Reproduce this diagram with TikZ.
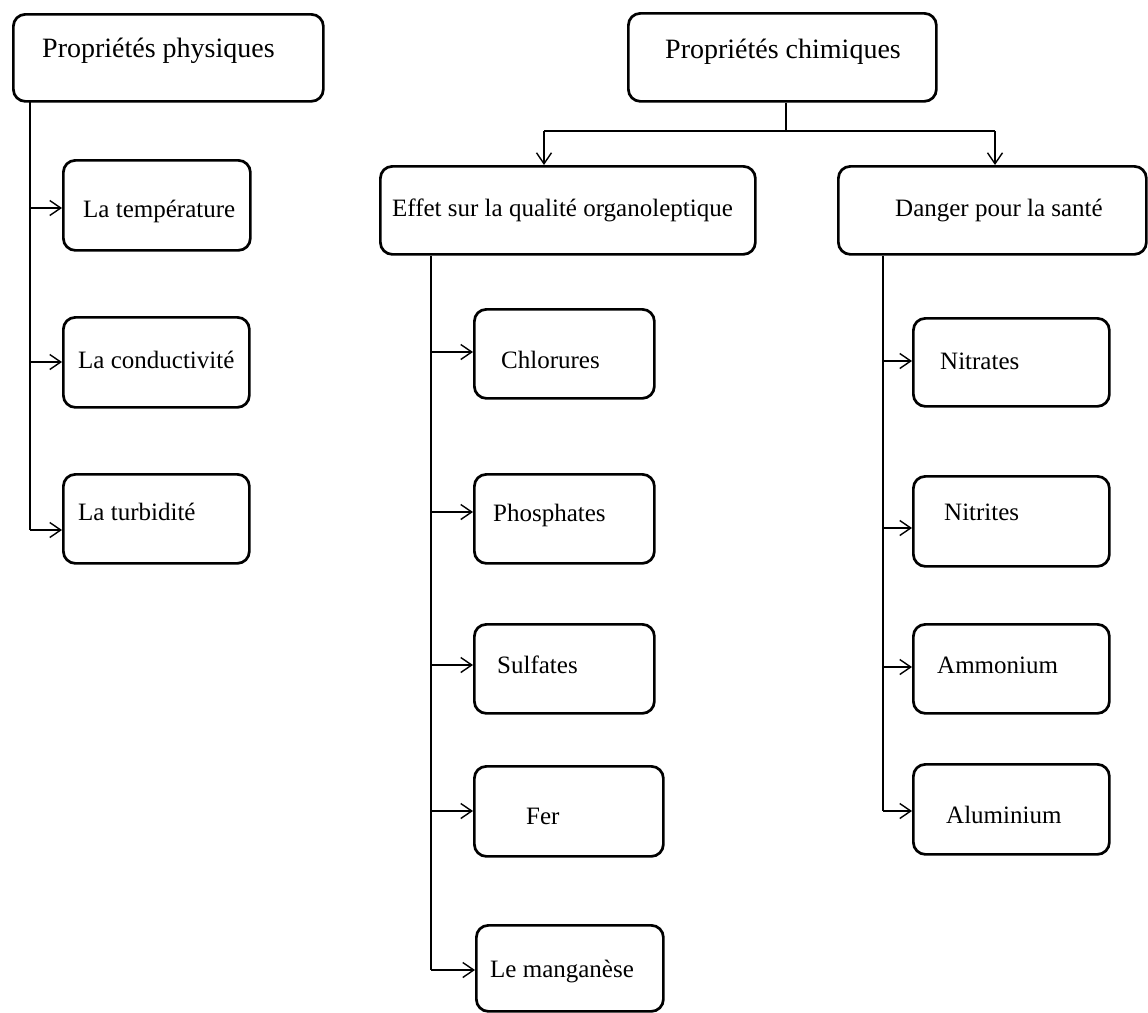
\documentclass[tikz,border=0pt]{standalone}
\usepackage{fontspec}
\setmainfont{Liberation Serif}
\usetikzlibrary{arrows.meta}
\begin{document}
\begin{tikzpicture}[x=1pt,y=-1pt,
  box/.style={draw, line width=2.7pt, rounded corners=12pt, inner sep=0pt, anchor=north west},
  itemtxt/.style={inner sep=0pt, anchor=base west, font=\fontsize{25}{30}\selectfont},
  headtxt/.style={inner sep=0pt, anchor=base west, font=\fontsize{28}{33}\selectfont},
  conn/.style={line width=1.4pt},
  arr/.style={line width=1.4pt, -{Straight Barb[length=11pt,width=15pt,line width=1.4pt]}}]
\useasboundingbox (0,0) rectangle (1148,1012);
% boxes
\node[box, minimum width=310pt, minimum height=87pt] (phys) at (12,13) {};
\node[box, minimum width=308pt, minimum height=88pt] (chim) at (627,12) {};
\node[box, minimum width=375pt, minimum height=88pt] (effet) at (379,165) {};
\node[box, minimum width=308pt, minimum height=88pt] (danger) at (837,165) {};
\node[box, minimum width=187pt, minimum height=90pt] (temp) at (62,159) {};
\node[box, minimum width=186pt, minimum height=90pt] (cond) at (62,316) {};
\node[box, minimum width=186pt, minimum height=89pt] (turb) at (62,473) {};
\node[box, minimum width=180pt, minimum height=89pt] (chlo) at (473,308) {};
\node[box, minimum width=180pt, minimum height=89pt] (phos) at (473,473) {};
\node[box, minimum width=180pt, minimum height=89pt] (sulf) at (473,623) {};
\node[box, minimum width=189pt, minimum height=90pt] (fer) at (473,765) {};
\node[box, minimum width=187pt, minimum height=86pt] (mang) at (475,924) {};
\node[box, minimum width=196pt, minimum height=88pt] (nitra) at (912,317) {};
\node[box, minimum width=196pt, minimum height=90pt] (nitri) at (912,475) {};
\node[box, minimum width=196pt, minimum height=89pt] (ammo) at (912,623) {};
\node[box, minimum width=196pt, minimum height=90pt] (alu) at (912,763) {};
% texts
\node[headtxt] (phys-t) at (42,57) {Propriétés physiques};
\node[headtxt] (chim-t) at (665,58) {Propriétés chimiques};
\node[itemtxt, anchor=base east] (effet-t) at (733,216) {Effet sur la qualité organoleptique};
\node[itemtxt] (danger-t) at (895,216) {Danger pour la santé};
\node[itemtxt] (temp-t) at (83,217) {La température};
\node[itemtxt] (cond-t) at (78,368) {La conductivité};
\node[itemtxt] (turb-t) at (78,520) {La turbidité};
\node[itemtxt] (chlo-t) at (501,368) {Chlorures};
\node[itemtxt] (phos-t) at (493,521) {Phosphates};
\node[itemtxt] (sulf-t) at (497,673) {Sulfates};
\node[itemtxt] (fer-t) at (526,824) {Fer};
\node[itemtxt] (mang-t) at (490,977) {Le manganèse};
\node[itemtxt] (nitra-t) at (940,369) {Nitrates};
\node[itemtxt] (nitri-t) at (944,520) {Nitrites};
\node[itemtxt] (ammo-t) at (937,673) {Ammonium};
\node[itemtxt] (alu-t) at (946,823) {Aluminium};
% physical properties connectors
\coordinate (p0) at (30,100);
\coordinate (p3) at (30,530);
\draw[conn] (p0) -- (p3);
\draw[arr] (30,208) -- (temp.west |- 0,208);
\draw[arr] (30,362) -- (cond.west |- 0,362);
\draw[arr] (p3) -- (turb.west |- p3);
% chemical properties connectors
\coordinate (c0) at (786,131);
\coordinate (cl) at (544,131);
\coordinate (cr) at (995,131);
\draw[conn] (chim.south -| c0) -- (c0);
\draw[conn] (cl) -- (cr);
\draw[arr] (cl) -- (effet.north -| cl);
\draw[arr] (cr) -- (danger.north -| cr);
% effet branch
\coordinate (e3) at (431,970);
\draw[conn] (effet.south -| e3) -- (e3);
\draw[arr] (431,352) -- (chlo.west |- 0,352);
\draw[arr] (431,512) -- (phos.west |- 0,512);
\draw[arr] (431,665) -- (sulf.west |- 0,665);
\draw[arr] (431,811) -- (fer.west |- 0,811);
\draw[arr] (e3) -- (mang.west |- e3);
% danger branch
\coordinate (d3) at (883,811);
\draw[conn] (danger.south -| d3) -- (d3);
\draw[arr] (883,361) -- (nitra.west |- 0,361);
\draw[arr] (883,528) -- (nitri.west |- 0,528);
\draw[arr] (883,667) -- (ammo.west |- 0,667);
\draw[arr] (d3) -- (alu.west |- d3);
\end{tikzpicture}
\end{document}
